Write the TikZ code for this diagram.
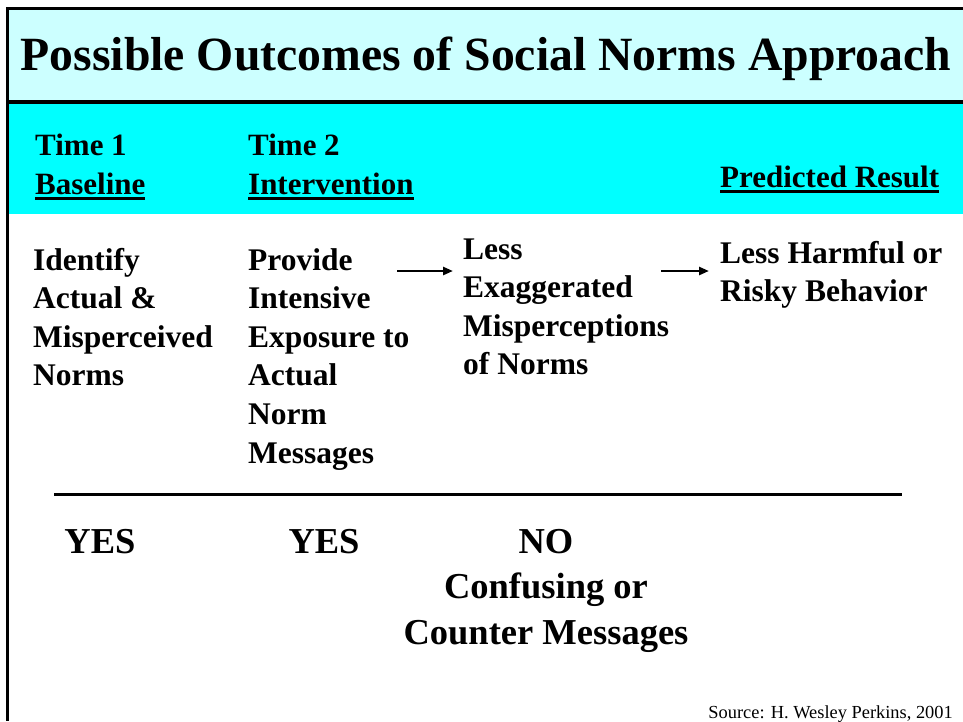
\documentclass[tikz,border=0pt]{standalone}
\usepackage{fontspec}
\setmainfont{Liberation Serif}
\usetikzlibrary{arrows.meta}

\definecolor{titlecyan}{HTML}{CCFFFF}
\definecolor{bandcyan}{HTML}{00FFFF}

% thick underline for the column headings
\newcommand{\headul}[1]{\setbox0\hbox{#1}\rlap{\rule[-6pt]{\wd0}{2.6pt}}\box0}

\begin{document}
\begin{tikzpicture}[x=1pt, y=-1pt]
                \tikzstyle{frame} = [line width=3.5pt]
                \tikzstyle{head} = [anchor=base west, inner sep=0pt, font=\fontsize{31}{38.5}\selectfont\bfseries]
                % multi-line nodes sit on the baseline of their last line
                \tikzstyle{body} = [anchor=base west, inner sep=0pt, align=left, font=\fontsize{31.5}{38.6}\selectfont\bfseries]
                \tikzstyle{answer} = [anchor=base, inner sep=0pt, align=center, font=\fontsize{36.5}{45.5}\selectfont\bfseries]
                \tikzstyle{flow} = [line width=2.8pt, -{Triangle[length=10pt, width=8pt]}]
                \useasboundingbox (0, 0) rectangle (963, 721);
                % title and heading bands
                \fill[titlecyan] (7.5, 8.5) rectangle (963, 102);
                \fill[bandcyan] (7.5, 102) rectangle (963, 214);
                \draw[frame] (963, 8.5) -- (7.5, 8.5) -- (7.5, 721);
                \draw[frame] (7.5, 102) -- (963, 102);
                \node[anchor=base, inner sep=0pt, font=\fontsize{47.7}{50}\selectfont\bfseries] (title) at (486, 70) {Possible Outcomes of Social Norms Approach};
                % column headings
                \node[head] (time1) at (35, 155) {Time 1};
                \node[head] (base) at (35, 194) {\headul{Baseline}};
                \node[head] (time2) at (248, 155) {Time 2};
                \node[head] (inter) at (248, 194) {\headul{Intervention}};
                \node[head] (pred) at (720, 187) {\headul{Predicted Result}};
                % steps
                \node[body] (identify) at (33, 385.8) {Identify\\Actual \&\\Misperceived\\Norms};
                \node[body] (provide) at (248, 463) {Provide\\Intensive\\Exposure to\\Actual\\Norm\\Messages};
                \node[body] (less) at (463, 374.8) {Less\\Exaggerated\\Misperceptions\\of Norms};
                \node[body] (result) at (720, 301.6) {Less Harmful or\\Risky Behavior};
                \coordinate (arr1) at (397, 271);
                \coordinate (arr2) at (661, 271);
                \draw[flow] (arr1) -- ([xshift=-10pt]arr1 -| less.west);
                \draw[flow] (arr2) -- ([xshift=-11pt]arr2 -| result.west);
                % rule and answers
                \coordinate (ruleL) at (54, 494.5);
                \coordinate (ruleR) at (902, 494.5);
                \draw[line width=3pt] (ruleL) -- (ruleR);
                \node[answer] (yes1) at (100, 553) {YES};
                \node[answer] (yes2) at (324, 553) {YES};
                \node[answer] (no) at (546, 644) {NO\\Confusing or\\Counter Messages};
                \node[anchor=base east, inner sep=0pt, font=\fontsize{18.4}{20}\selectfont] (source) at (953, 718) {Source: H. Wesley Perkins, 2001};
            \end{tikzpicture}
\end{document}
